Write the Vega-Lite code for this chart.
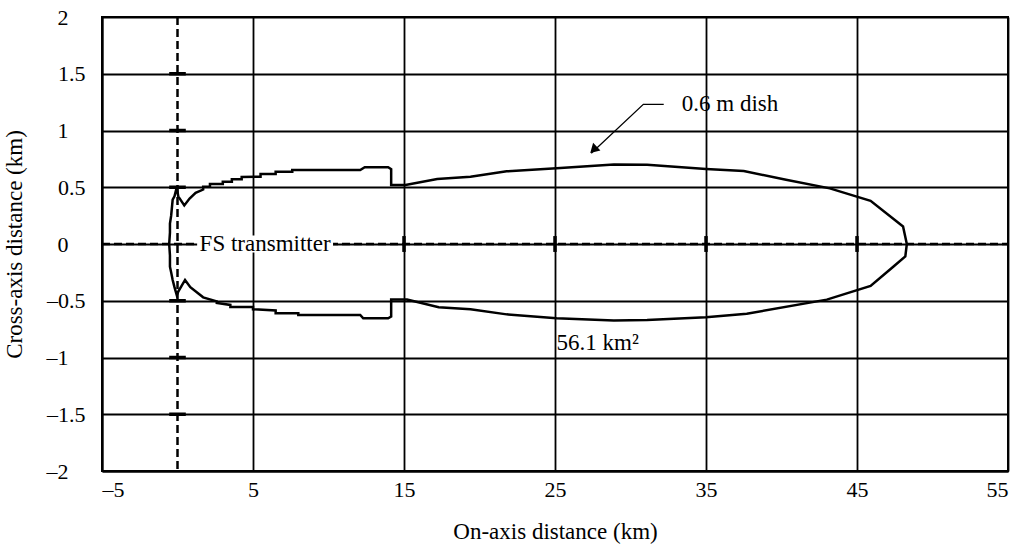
{
  "$schema": "https://vega.github.io/schema/vega-lite/v6.json",
  "autosize": "none",
  "width": 906,
  "height": 454,
  "padding": {"left": 102, "top": 17, "right": 13, "bottom": 75},
  "background": "white",
  "config": {
    "view": {"stroke": "black", "strokeWidth": 2},
    "font": "Liberation Serif",
    "axis": {
      "labelFont": "Liberation Serif",
      "titleFont": "Liberation Serif",
      "labelFontSize": 22,
      "titleFontSize": 23,
      "titleFontWeight": "normal",
      "labelColor": "black",
      "titleColor": "black",
      "grid": true,
      "gridColor": "black",
      "gridOpacity": 1,
      "gridWidth": 1.8,
      "domainColor": "black",
      "domainWidth": 2,
      "ticks": false
    }
  },
  "datasets": {
    "contour": [
      {"o": 1, "x": -0.05, "y": 0.5},
      {"o": 2, "x": 0.05, "y": 0.42},
      {"o": 3, "x": 0.45, "y": 0.34},
      {"o": 4, "x": 0.8, "y": 0.4},
      {"o": 5, "x": 1.2, "y": 0.45},
      {"o": 6, "x": 1.7, "y": 0.48},
      {"o": 7, "x": 1.7, "y": 0.505},
      {"o": 8, "x": 2.15, "y": 0.505},
      {"o": 9, "x": 2.15, "y": 0.529},
      {"o": 10, "x": 3.0, "y": 0.529},
      {"o": 11, "x": 3.0, "y": 0.549},
      {"o": 12, "x": 3.6, "y": 0.549},
      {"o": 13, "x": 3.6, "y": 0.57},
      {"o": 14, "x": 4.25, "y": 0.57},
      {"o": 15, "x": 4.25, "y": 0.59},
      {"o": 16, "x": 5.5, "y": 0.593},
      {"o": 17, "x": 5.5, "y": 0.617},
      {"o": 18, "x": 6.5, "y": 0.617},
      {"o": 19, "x": 6.5, "y": 0.637},
      {"o": 20, "x": 7.6, "y": 0.637},
      {"o": 21, "x": 7.6, "y": 0.652},
      {"o": 22, "x": 12.1, "y": 0.652},
      {"o": 23, "x": 12.4, "y": 0.676},
      {"o": 24, "x": 13.95, "y": 0.676},
      {"o": 25, "x": 14.15, "y": 0.66},
      {"o": 26, "x": 14.15, "y": 0.52},
      {"o": 27, "x": 15.1, "y": 0.52},
      {"o": 28, "x": 17.2, "y": 0.573},
      {"o": 29, "x": 19.4, "y": 0.593},
      {"o": 30, "x": 21.8, "y": 0.64},
      {"o": 31, "x": 25.1, "y": 0.667},
      {"o": 32, "x": 28.9, "y": 0.7},
      {"o": 33, "x": 31.1, "y": 0.698},
      {"o": 34, "x": 35.0, "y": 0.66},
      {"o": 35, "x": 37.5, "y": 0.643},
      {"o": 36, "x": 40.3, "y": 0.566},
      {"o": 37, "x": 43.2, "y": 0.49},
      {"o": 38, "x": 45.9, "y": 0.38},
      {"o": 39, "x": 48.05, "y": 0.155},
      {"o": 40, "x": 48.3, "y": 0.0},
      {"o": 41, "x": 48.2, "y": -0.11},
      {"o": 42, "x": 47.4, "y": -0.2},
      {"o": 43, "x": 45.9, "y": -0.37},
      {"o": 44, "x": 43.0, "y": -0.49},
      {"o": 45, "x": 37.7, "y": -0.615},
      {"o": 46, "x": 35.0, "y": -0.645},
      {"o": 47, "x": 31.1, "y": -0.67},
      {"o": 48, "x": 28.9, "y": -0.675},
      {"o": 49, "x": 25.1, "y": -0.655},
      {"o": 50, "x": 21.8, "y": -0.62},
      {"o": 51, "x": 19.4, "y": -0.575},
      {"o": 52, "x": 17.3, "y": -0.558},
      {"o": 53, "x": 15.2, "y": -0.49},
      {"o": 54, "x": 14.15, "y": -0.49},
      {"o": 55, "x": 14.15, "y": -0.64},
      {"o": 56, "x": 13.95, "y": -0.655},
      {"o": 57, "x": 12.3, "y": -0.655},
      {"o": 58, "x": 12.1, "y": -0.625},
      {"o": 59, "x": 8.0, "y": -0.625},
      {"o": 60, "x": 8.0, "y": -0.61},
      {"o": 61, "x": 6.5, "y": -0.61},
      {"o": 62, "x": 6.5, "y": -0.585},
      {"o": 63, "x": 5.0, "y": -0.575},
      {"o": 64, "x": 5.0, "y": -0.555},
      {"o": 65, "x": 3.5, "y": -0.555},
      {"o": 66, "x": 3.5, "y": -0.537},
      {"o": 67, "x": 2.6, "y": -0.52},
      {"o": 68, "x": 2.6, "y": -0.505},
      {"o": 69, "x": 1.7, "y": -0.47},
      {"o": 70, "x": 0.85, "y": -0.38},
      {"o": 71, "x": 0.5, "y": -0.317},
      {"o": 72, "x": 0.05, "y": -0.42},
      {"o": 73, "x": -0.05, "y": -0.45},
      {"o": 74, "x": -0.2, "y": -0.38},
      {"o": 75, "x": -0.32, "y": -0.317},
      {"o": 76, "x": -0.42, "y": -0.25},
      {"o": 77, "x": -0.5, "y": -0.2},
      {"o": 78, "x": -0.5, "y": -0.1},
      {"o": 79, "x": -0.55, "y": 0.0},
      {"o": 80, "x": -0.5, "y": 0.1},
      {"o": 81, "x": -0.5, "y": 0.18},
      {"o": 82, "x": -0.42, "y": 0.25},
      {"o": 83, "x": -0.32, "y": 0.39},
      {"o": 84, "x": -0.2, "y": 0.42},
      {"o": 85, "x": -0.05, "y": 0.5}
    ],
    "vdash": [{"x": 0}],
    "hdash": [{"y": 0}],
    "hticks": [
      {"x": -0.55, "x2": 0.55, "y": 1.5},
      {"x": -0.55, "x2": 0.55, "y": 1},
      {"x": -0.55, "x2": 0.55, "y": 0.5},
      {"x": -0.55, "x2": 0.55, "y": -0.5},
      {"x": -0.55, "x2": 0.55, "y": -1},
      {"x": -0.55, "x2": 0.55, "y": -1.5}
    ],
    "vticks": [
      {"x": 15, "y": -0.07, "y2": 0.07},
      {"x": 25, "y": -0.07, "y2": 0.07},
      {"x": 35, "y": -0.07, "y2": 0.07},
      {"x": 45, "y": -0.07, "y2": 0.07}
    ],
    "mask": [{"x": 1.3, "x2": 10.3, "y": -0.075, "y2": 0.075}],
    "clabels": [
      {"x": 5.8, "y": 0.0, "t": "FS transmitter"}
    ],
    "llabels": [
      {"x": 33.4, "y": 1.23, "t": "0.6 m dish"},
      {"x": 25.1, "y": -0.87, "t": "56.1 km²"}
    ],
    "leader": [
      {"o": 1, "x": 32.2, "y": 1.23},
      {"o": 2, "x": 30.85, "y": 1.23},
      {"o": 3, "x": 27.4, "y": 0.8}
    ],
    "head": [{"x": 27.55, "y": 0.83}]
  },
  "layer": [
    {
      "data": {"name": "vdash"},
      "mark": {"type": "rule", "color": "black", "strokeWidth": 2.5, "strokeDash": [8, 4]},
      "encoding": {
        "x": {
          "field": "x", "type": "quantitative",
          "scale": {"domain": [-5, 55], "nice": false, "zero": false},
          "axis": {
            "values": [-5, 5, 15, 25, 35, 45, 55],
            "title": "On-axis distance (km)",
            "labelFont": "Liberation Serif",
            "labelFontSize": 22,
            "labelPadding": 8,
            "titlePadding": 20,
            "labelExpr": "replace(replace(format(datum.value, '~g'), '−', '–'), '-', '–')"
          }
        },
        "y": {"value": 0},
        "y2": {"value": 454}
      }
    },
    {
      "data": {"name": "hdash"},
      "mark": {"type": "rule", "color": "black", "strokeWidth": 2.5, "strokeDash": [8, 4]},
      "encoding": {
        "y": {
          "field": "y", "type": "quantitative",
          "scale": {"domain": [-2, 2], "nice": false, "zero": false},
          "axis": {
            "values": [-2, -1.5, -1, -0.5, 0, 0.5, 1, 1.5, 2],
            "title": "Cross-axis distance (km)",
            "labelFont": "Liberation Serif",
            "labelFontSize": 22,
            "labelPadding": {"condition": {"test": "datum.value % 1 === 0", "value": 34}, "value": 17},
            "titlePadding": 20,
            "labelExpr": "replace(replace(format(datum.value, '~g'), '−', '–'), '-', '–')"
          }
        },
        "x": {"value": 0},
        "x2": {"value": 906}
      }
    },
    {
      "data": {"name": "hticks"},
      "mark": {"type": "rule", "color": "black", "strokeWidth": 3.5},
      "encoding": {
        "x": {"field": "x", "type": "quantitative"},
        "x2": {"field": "x2"},
        "y": {"field": "y", "type": "quantitative"}
      }
    },
    {
      "data": {"name": "vticks"},
      "mark": {"type": "rule", "color": "black", "strokeWidth": 3.5},
      "encoding": {
        "x": {"field": "x", "type": "quantitative"},
        "y": {"field": "y", "type": "quantitative"},
        "y2": {"field": "y2"}
      }
    },
    {
      "data": {"name": "contour"},
      "mark": {"type": "line", "color": "black", "strokeWidth": 2.5, "strokeJoin": "miter"},
      "encoding": {
        "x": {"field": "x", "type": "quantitative"},
        "y": {"field": "y", "type": "quantitative"},
        "order": {"field": "o"}
      }
    },
    {
      "data": {"name": "mask"},
      "mark": {"type": "rect", "color": "white", "opacity": 1},
      "encoding": {
        "x": {"field": "x", "type": "quantitative"},
        "x2": {"field": "x2"},
        "y": {"field": "y", "type": "quantitative"},
        "y2": {"field": "y2"}
      }
    },
    {
      "data": {"name": "clabels"},
      "mark": {"type": "text", "font": "Liberation Serif", "fontSize": 23, "color": "black", "baseline": "middle", "align": "center"},
      "encoding": {
        "x": {"field": "x", "type": "quantitative"},
        "y": {"field": "y", "type": "quantitative"},
        "text": {"field": "t"}
      }
    },
    {
      "data": {"name": "llabels"},
      "mark": {"type": "text", "font": "Liberation Serif", "fontSize": 23, "color": "black", "baseline": "middle", "align": "left"},
      "encoding": {
        "x": {"field": "x", "type": "quantitative"},
        "y": {"field": "y", "type": "quantitative"},
        "text": {"field": "t"}
      }
    },
    {
      "data": {"name": "leader"},
      "mark": {"type": "line", "color": "black", "strokeWidth": 1.3},
      "encoding": {
        "x": {"field": "x", "type": "quantitative"},
        "y": {"field": "y", "type": "quantitative"},
        "order": {"field": "o"}
      }
    },
    {
      "data": {"name": "head"},
      "mark": {"type": "point", "shape": "triangle-down", "filled": true, "color": "black", "opacity": 1, "size": 110, "angle": 46},
      "encoding": {
        "x": {"field": "x", "type": "quantitative"},
        "y": {"field": "y", "type": "quantitative"}
      }
    }
  ]
}
